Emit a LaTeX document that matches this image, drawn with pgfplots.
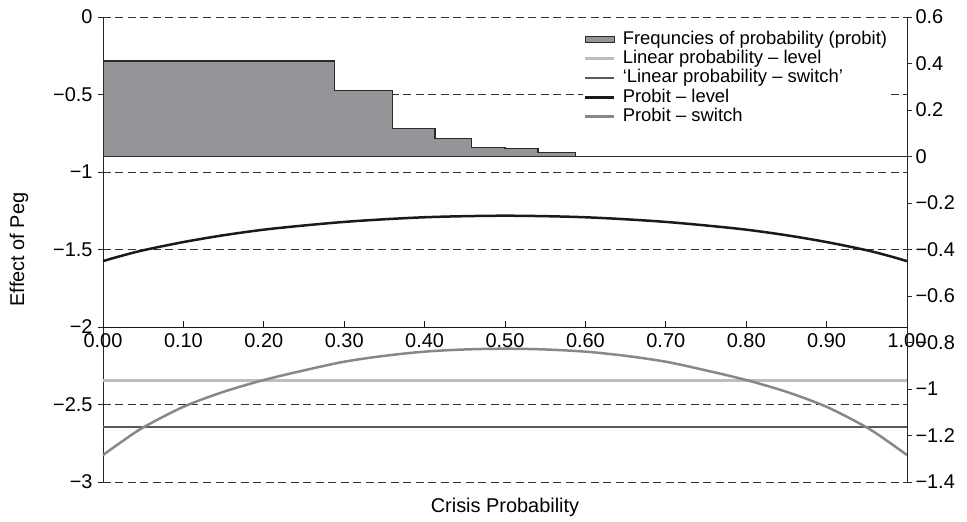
\documentclass[border=0pt]{standalone}
\usepackage{pgfplots}
\pgfplotsset{compat=1.18}
\usepackage{fontspec}
\setmainfont{Liberation Sans}
\definecolor{histfill}{HTML}{939598}
\definecolor{histdraw}{HTML}{2B2B2B}
\definecolor{linlev}{HTML}{BDBDBD}
\definecolor{linsw}{HTML}{5A5A5A}
\definecolor{prolev}{HTML}{1A1A1A}
\definecolor{prosw}{HTML}{888888}
\pgfplotsset{
  linlevel/.style={color=linlev, line width=2.4bp},
  linswitch/.style={color=linsw, line width=2.6bp},
  problevel/.style={color=prolev, line width=2.5bp},
  probswitch/.style={color=prosw, line width=2.5bp},
}
\pgfplotstableread{
x y
0.00 -1.575
0.02 -1.545
0.05 -1.505
0.10 -1.452
0.15 -1.408
0.20 -1.372
0.25 -1.345
0.30 -1.322
0.35 -1.305
0.40 -1.292
0.45 -1.285
0.50 -1.282
0.55 -1.285
0.60 -1.292
0.65 -1.305
0.70 -1.322
0.75 -1.345
0.80 -1.372
0.85 -1.408
0.90 -1.452
0.95 -1.505
0.98 -1.545
1.00 -1.575
}\problevtab
\pgfplotstableread{
x y
0.00 -2.826
0.02 -2.752
0.05 -2.648
0.10 -2.515
0.15 -2.418
0.20 -2.342
0.25 -2.280
0.30 -2.224
0.35 -2.186
0.40 -2.159
0.45 -2.145
0.50 -2.140
0.55 -2.145
0.60 -2.159
0.65 -2.186
0.70 -2.224
0.75 -2.280
0.80 -2.342
0.85 -2.418
0.90 -2.515
0.95 -2.648
0.98 -2.752
1.00 -2.826
}\probswtab
\pgfplotstableread{
x y
0.000 0.411
0.288 0.285
0.360 0.121
0.413 0.077
0.458 0.038
0.500 0.034
0.541 0.016
0.588 0.000
1.000 0.000
}\histtab
\begin{document}
\begin{tikzpicture}
\path[use as bounding box] (-103bp,-40bp) rectangle (864bp,482bp);
% left axis: curves
\begin{axis}[
  at={(0,0)}, anchor=south west, scale only axis,
  width=804bp, height=465bp,
  xmin=0, xmax=1, ymin=-3, ymax=0,
  axis y line*=left, axis x line*=bottom,
  x axis line style={draw=none},
  y axis line style={color=black!85, line width=0.9bp},
  xtick=\empty,
  ytick={-3,-2.5,-2,-1.5,-1,-0.5,0},
  yticklabels={−3,−2.5,−2,−1.5,−1,−0.5,0},
  ytick align=outside, major tick length=5bp,
  ytick style={color=black!85, line width=0.9bp},
  ymajorgrids,
  major grid style={color=black!80, line width=0.9bp, dash pattern=on 8bp off 4.5bp},
  tick label style={font=\fontsize{20}{24}\selectfont},
  yticklabel style={xshift=-2bp},
  label style={font=\fontsize{20}{24}\selectfont},
  xlabel={Crisis Probability},
  xlabel style={at={(rel axis cs:0.5,-0.054)}, anchor=center},
  ylabel={Effect of Peg},
  ylabel style={at={(rel axis cs:-0.1045,0.5)}, anchor=center, rotate=0},
  clip=false,
]
\addplot[linlevel] coordinates {(0,-2.345) (1,-2.345)};
\addplot[linswitch] coordinates {(0,-2.645) (1,-2.645)};
\addplot[problevel, smooth] table[x=x,y=y] {\problevtab};
\addplot[probswitch, smooth] table[x=x,y=y] {\probswtab};
\end{axis}
% x axis at y = -2
\begin{axis}[
  at={(0,155bp)}, anchor=south west, scale only axis,
  width=804bp, height=310bp,
  xmin=0, xmax=1, ymin=-2, ymax=0,
  axis x line*=bottom, axis y line=none,
  x axis line style={color=black!90, line width=0.9bp},
  xtick={0,0.1,0.2,0.3,0.4,0.5,0.6,0.7,0.8,0.9,1},
  xticklabels={0.00,0.10,0.20,0.30,0.40,0.50,0.60,0.70,0.80,0.90,1.00},
  xtick align=inside, major tick length=6bp,
  xtick style={color=black!90, line width=0.9bp},
  tick label style={font=\fontsize{20}{24}\selectfont},
  xticklabel style={yshift=-3bp},
]
\addplot[draw=none] coordinates {(0,-2) (1,-2)};
\end{axis}
% right axis: histogram
\begin{axis}[
  at={(0,0)}, anchor=south west, scale only axis,
  width=804bp, height=465bp,
  xmin=0, xmax=1, ymin=-1.4, ymax=0.6,
  axis y line*=right, axis x line=none,
  y axis line style={color=black!85, line width=0.9bp},
  ytick={-1.4,-1.2,-1,-0.8,-0.6,-0.4,-0.2,0,0.2,0.4,0.6},
  yticklabels={−1.4,−1.2,−1,−0.8,−0.6,−0.4,−0.2,0,0.2,0.4,0.6},
  ytick align=outside, major tick length=5bp,
  ytick style={color=black!85, line width=0.9bp},
  tick label style={font=\fontsize{20}{24}\selectfont},
  legend image code/.code={\draw[#1] (0bp,0bp) -- (29bp,0bp);},
  legend style={
    at={(rel axis cs:0.597,0.976)}, anchor=north west,
    draw=none, fill=white, inner sep=1bp,
    font=\fontsize{18.5}{19}\selectfont,
    row sep=0pt,
    nodes={inner sep=1bp, text height=13.8bp, text depth=3.6bp},
    /tikz/every odd column/.append style={column sep=6bp},
  },
  legend cell align=left,
]
\addplot[const plot, fill=histfill, draw=histdraw, line width=1.2bp,
  legend image code/.code={\draw[fill=histfill, draw=histdraw, line width=1bp] (0bp,-3bp) rectangle (29bp,3bp);}]
  table[x=x,y=y] {\histtab} \closedcycle;
\addlegendentry{Frequncies of probability (probit)}
\addlegendimage{linlevel}
\addlegendentry{Linear probability – level}
\addlegendimage{linswitch}
\addlegendentry{‘Linear probability – switch’}
\addlegendimage{problevel}
\addlegendentry{Probit – level}
\addlegendimage{probswitch}
\addlegendentry{Probit – switch}
\end{axis}
\end{tikzpicture}
\end{document}
